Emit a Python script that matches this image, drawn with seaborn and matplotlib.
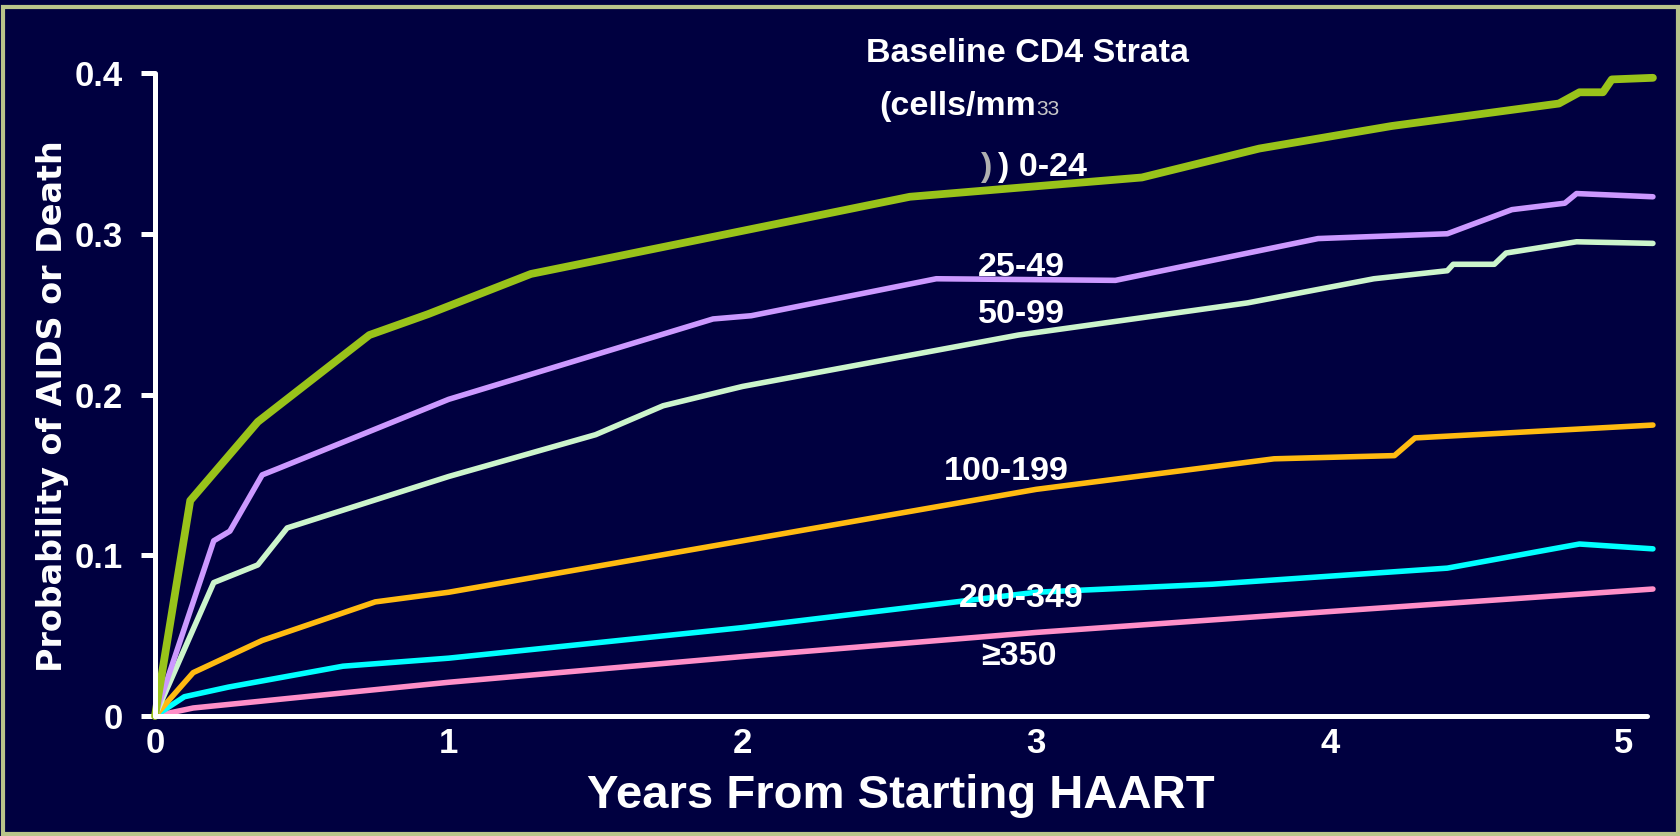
import matplotlib
matplotlib.use("Agg")
import matplotlib.pyplot as plt
import numpy as np
import pandas as pd
import seaborn as sns

# values (years, cumulative probability)
x_0_24 = [0, 0.12, 0.35, 0.73, 0.93, 1.28, 2.57, 3.36, 3.76, 4.21, 4.78, 4.85, 4.93, 4.96, 5.10]
y_0_24 = [0, 0.134, 0.183, 0.237, 0.250, 0.275, 0.323, 0.335, 0.353, 0.367, 0.381, 0.388, 0.388, 0.396, 0.397]

x_25_49 = [0, 0.20, 0.255, 0.365, 0.42, 1.0, 1.90, 2.03, 2.66, 3.27, 3.96, 4.40, 4.62, 4.80, 4.84, 5.10]
y_25_49 = [0, 0.109, 0.115, 0.150, 0.154, 0.197, 0.247, 0.249, 0.272, 0.271, 0.297, 0.300, 0.315, 0.319, 0.325, 0.323]

x_50_99 = [0, 0.20, 0.35, 0.45, 1.0, 1.50, 1.73, 2.0, 2.94, 3.72, 4.15, 4.40, 4.42, 4.56, 4.60, 4.84, 5.10]
y_50_99 = [0, 0.083, 0.094, 0.117, 0.149, 0.175, 0.193, 0.205, 0.237, 0.257, 0.272, 0.277, 0.281, 0.281, 0.288, 0.295, 0.294]

x_100_199 = [0, 0.13, 0.365, 0.75, 1.0, 2.0, 3.0, 3.81, 4.22, 4.29, 5.10]
y_100_199 = [0, 0.027, 0.047, 0.071, 0.077, 0.109, 0.141, 0.160, 0.162, 0.173, 0.181]

x_200_349 = [0, 0.10, 0.25, 0.64, 1.0, 2.0, 3.0, 3.60, 4.40, 4.85, 5.10]
y_200_349 = [0, 0.012, 0.018, 0.031, 0.036, 0.055, 0.077, 0.082, 0.092, 0.107, 0.104]

x_350 = [0, 0.13, 1.0, 2.0, 3.0, 4.0, 5.10]
y_350 = [0, 0.005, 0.021, 0.037, 0.052, 0.065, 0.079]

strata = ["0-24", "25-49", "50-99", "100-199", "200-349", "350+"]
colors = ["#99c31a", "#cc99ff", "#ccf5cc", "#ffbb11", "#00ffff", "#ff8fc8"]
widths = [5.6, 4.0, 4.0, 4.0, 4.0, 4.0]

x_ticks = [0, 1, 2, 3, 4, 5]
y_ticks = [0, 0.1, 0.2, 0.3, 0.4]
y_tick_labels = ["0", "0.1", "0.2", "0.3", "0.4"]

# one long table for seaborn
frames = []
for name, xs, ys in zip(strata,
                        [x_0_24, x_25_49, x_50_99, x_100_199, x_200_349, x_350],
                        [y_0_24, y_25_49, y_50_99, y_100_199, y_200_349, y_350]):
    frames.append(pd.DataFrame({"years": xs, "prob": ys, "stratum": name}))
df = pd.concat(frames, ignore_index=True)

navy = "#000040"
sns.set_style("dark")
plt.rcParams["font.family"] = ["Liberation Sans", "DejaVu Sans"]

fig = plt.figure(figsize=(16.81, 8.36), dpi=100, facecolor=navy)
ax = fig.add_axes([0.0922, 0.1435, 0.8876, 0.7692])
ax.set_facecolor(navy)

# draw thinner lines first so green sits on top like the original
for name, col, lw in list(zip(strata, colors, widths))[::-1]:
    sub = df[df["stratum"] == name]
    sns.lineplot(data=sub, x="years", y="prob", color=col, linewidth=lw,
                 ax=ax, sort=False, estimator=None, clip_on=False)

ax.set_xlim(0, 5.08)
ax.set_ylim(0, 0.4)
ax.grid(False)
for side in ["top", "right"]:
    ax.spines[side].set_visible(False)
for side in ["left", "bottom"]:
    ax.spines[side].set_color("white")
    ax.spines[side].set_linewidth(3.6)
    ax.spines[side].set_capstyle("round")

ax.set_xticks(x_ticks)
ax.set_xticklabels([str(t) for t in x_ticks])
ax.set_yticks(y_ticks)
ax.set_yticklabels(y_tick_labels)
ax.tick_params(axis="y", colors="white", length=10, width=3.6, direction="out",
               labelsize=25, pad=13, left=True)
ax.tick_params(axis="x", colors="white", length=0, labelsize=25, pad=8, bottom=True)
for lab in ax.get_xticklabels() + ax.get_yticklabels():
    lab.set_fontweight("bold")

ax.set_xlabel("Years From Starting HAART", color="white", fontsize=34,
              fontweight="bold", labelpad=10)
ax.set_ylabel("")
# long y label, wide bold face like the slide
fig.text(0.031, 0.514, "Probability of AIDS or Death", rotation=90, color="white",
         fontsize=24, fontweight="bold", ha="center", va="center",
         family=["DejaVu Sans"])

# stratum labels
txt = dict(color="white", fontsize=24.5, fontweight="bold", ha="center", va="center")
ax.text(2.97, 0.412, "Baseline CD4 Strata", **txt)
ax.text(3.00, 0.379, "(cells/mm", color="white", fontsize=24.5, fontweight="bold",
        ha="right", va="center")
ax.text(3.00, 0.377, "33", color="#c8c8c8", fontsize=15, ha="left", va="center")
ax.text(2.83, 0.341, ")", color="#b0b0b0", fontsize=24.5, fontweight="bold",
        ha="center", va="center")
ax.text(3.02, 0.341, ") 0-24", **txt)
ax.text(2.95, 0.279, "25-49", **txt)
ax.text(2.95, 0.250, "50-99", **txt)
ax.text(2.90, 0.152, "100-199", **txt)
ax.text(2.95, 0.073, "200-349", **txt)
ax.text(2.94, 0.037, "\u2265350", **txt)

# thin olive frame around the slide
fig.patches.append(plt.Rectangle((0.002, 0.002), 0.996, 0.99, transform=fig.transFigure,
                                 fill=False, edgecolor="#b9c48a", linewidth=3))

fig.savefig("out.png", dpi=100, facecolor=navy)
